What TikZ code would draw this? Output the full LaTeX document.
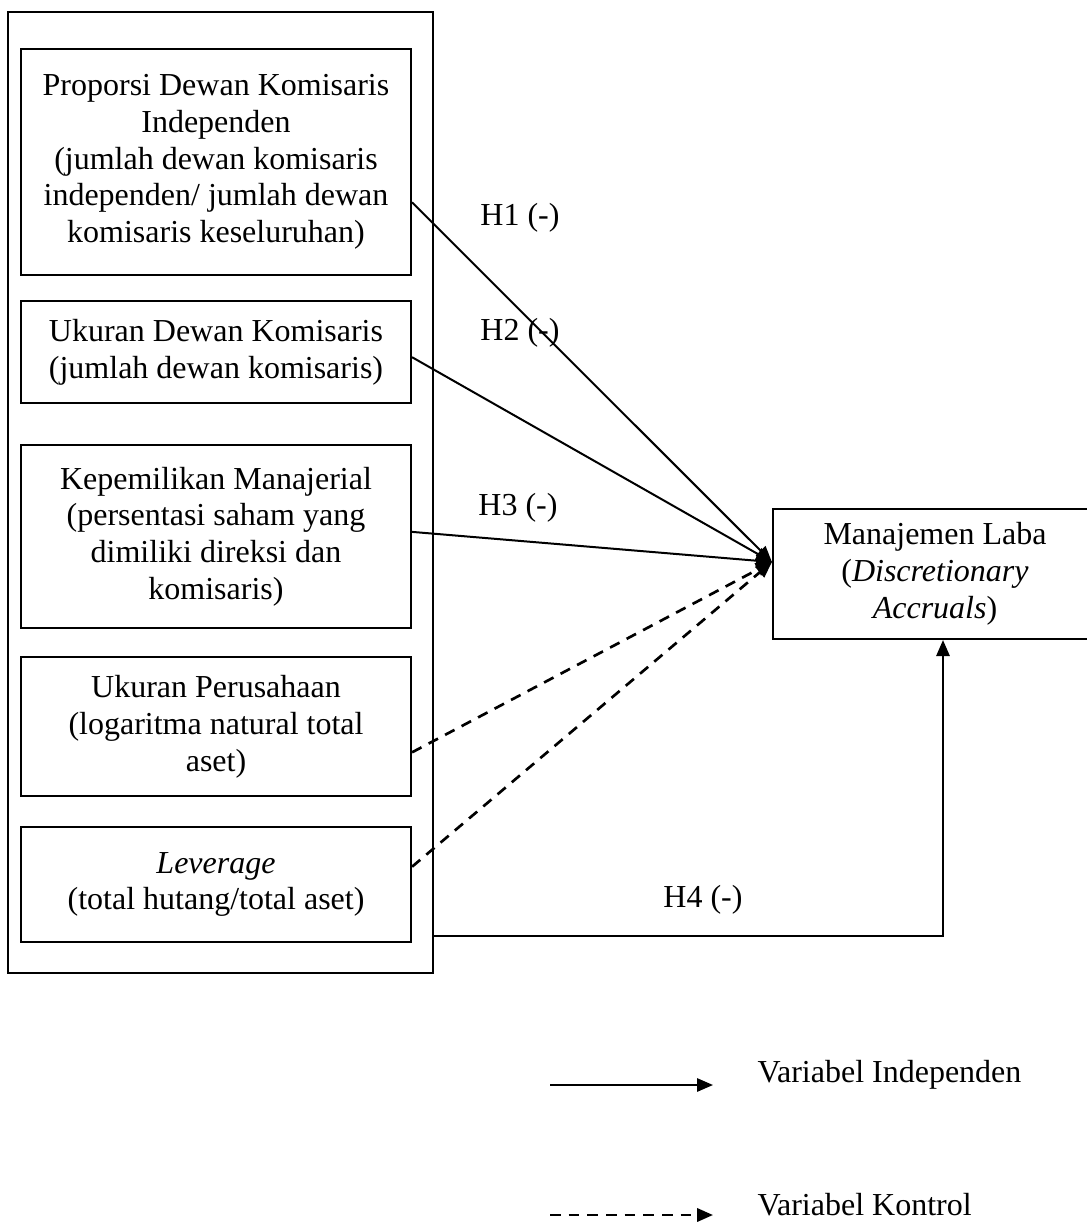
\documentclass[tikz,border=0pt]{standalone}
\usepackage{fontspec}
\setmainfont{Liberation Serif}
\usetikzlibrary{arrows.meta,calc}

\begin{document}
\begin{tikzpicture}[x=0.375pt,y=-0.375pt,
    txt/.style={font=\fontsize{12}{13.8}\selectfont,align=center,inner sep=0pt},
    varbox/.style={txt,draw,line width=0.8pt,minimum width=146.25pt},
    ctrl/.style={line width=1pt,dash pattern=on 4pt off 3pt},
    >={Triangle[length=6pt,width=5pt]}]

    \useasboundingbox (0,0) rectangle (1087,1222);

    % Outer frame and variable boxes %
    \node[draw,line width=0.8pt,minimum width=159.4pt,minimum height=360.4pt] (outer) at (220.5,492.5) {};
    \begin{scope}[every node/.style={varbox}]
        \node[minimum height=84.75pt] (pdki) at (216,162) {Proporsi Dewan Komisaris\\Independen\\(jumlah dewan komisaris\\independen/ jumlah dewan\\komisaris keseluruhan)};
        \node[minimum height=38.25pt] (udk) at (216,352) {Ukuran Dewan Komisaris\\(jumlah dewan komisaris)};
        \node[minimum height=68.6pt] (km) at (216,536.5) {Kepemilikan Manajerial\\(persentasi saham yang\\dimiliki direksi dan\\komisaris)};
        \node[minimum height=52.1pt] (up) at (216,726.5) {Ukuran Perusahaan\\(logaritma natural total\\aset)};
        \node[minimum height=43.1pt] (lev) at (216,884.5) {\textit{Leverage}\\(total hutang/total aset)};
        \node[minimum width=121.5pt,minimum height=48.75pt] (ml) at (935,574) {Manajemen Laba\\(\textit{Discretionary}\\\textit{Accruals})};
    \end{scope}

    \coordinate (hub) at ([yshift=4.5pt]ml.west);

    % Hypotheses H1 - H4 %
    \begin{scope}[line width=0.75pt]
        \draw[->] ($(pdki.north east)!0.677!(pdki.south east)$) -- (hub);
        \draw[->] ($(udk.north east)!0.55!(udk.south east)$) -- (hub);
        \draw[->] ($(km.north east)!0.475!(km.south east)$) -- (hub);
        \draw[->] ($(outer.north east)!0.96!(outer.south east)$) -| ([xshift=3pt]ml.south);
    \end{scope}

    % Control variables %
    \begin{scope}[ctrl]
        \draw[->] ($(up.north east)!0.683!(up.south east)$) -- (hub);
        \draw[->] ($(lev.north east)!0.348!(lev.south east)$) -- (hub);
    \end{scope}

    \begin{scope}[every node/.style={txt}]
        \node (h1) at (520,218) {H1 (-)};
        \node (h2) at (520,333) {H2 (-)};
        \node (h3) at (518,508) {H3 (-)};
        \node (h4) at (703,900) {H4 (-)};
    \end{scope}

    % Legend %
    \node[txt,anchor=west] (lind) at (757,1075) {Variabel Independen};
    \node[txt,anchor=west] (lkon) at (757,1205) {Variabel Kontrol};
    \coordinate (ind1) at (550,1085);
    \coordinate (ind2) at (713,1085);
    \coordinate (kon1) at (550,1215);
    \coordinate (kon2) at (713,1215);
    \draw[->,line width=0.75pt] (ind1) -- (ind2);
    \draw[->,ctrl] (kon1) -- (kon2);

\end{tikzpicture}
\end{document}
